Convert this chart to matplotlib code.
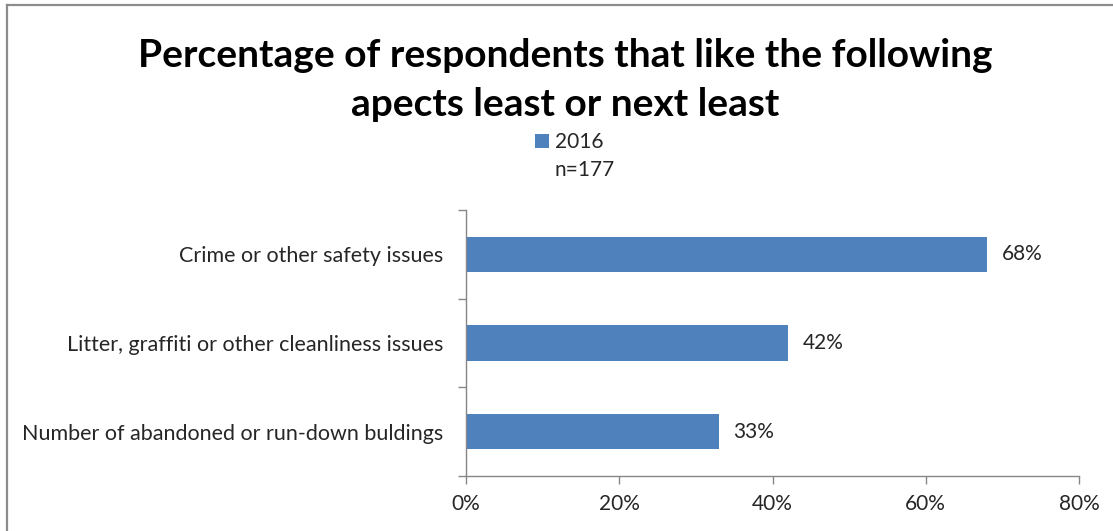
import matplotlib
matplotlib.use("Agg")
import matplotlib.pyplot as plt
from matplotlib.patches import Patch
from matplotlib.lines import Line2D

plt.rcParams['font.family'] = ['Lato', 'DejaVu Sans']

categories = [
    "Number of abandoned or run-down buldings",
    "Litter, graffiti or other cleanliness issues",
    "Crime or other safety issues",
]
values_2016 = [33, 42, 68]
series_name = "2016"
sample_note = "n=177"
x_ticks = [0, 20, 40, 60, 80]

bar_color = "#4F81BD"
axis_gray = "#868686"
text_color = "#262626"
label_size = 15

fig = plt.figure(figsize=(11.13, 5.31), dpi=100)
ax = fig.add_axes([466 / 1113, 55 / 531, 613 / 1113, 266 / 531])

pos = range(len(categories))
bars = ax.barh(pos, values_2016, height=0.4, color=bar_color)

for b, v in zip(bars, values_2016):
    ax.text(b.get_width() + 1.9, b.get_y() + b.get_height() / 2, f"{v}%",
            va="center", ha="left", fontsize=label_size, color=text_color)

ax.set_xlim(0, 80)
ax.set_ylim(-0.5, len(categories) - 0.5)
ax.set_xticks(x_ticks)
ax.set_xticklabels([f"{t}%" for t in x_ticks])
ax.set_yticks(list(pos))
ax.set_yticklabels(categories)
ax.set_yticks([i - 0.5 for i in range(len(categories) + 1)], minor=True)

ax.tick_params(axis="y", which="major", length=0, pad=16.5, labelsize=15.5, labelcolor=text_color)
ax.tick_params(axis="y", which="minor", length=6, color=axis_gray, width=1)
ax.tick_params(axis="x", length=6, color=axis_gray, width=1, pad=7, labelsize=label_size, labelcolor=text_color)

for s in ["top", "right"]:
    ax.spines[s].set_visible(False)
for s in ["left", "bottom"]:
    ax.spines[s].set_color(axis_gray)
    ax.spines[s].set_linewidth(1)

fig.text(565 / 1113, 1 - 80 / 531,
         "Percentage of respondents that like the following\napects least or next least",
         ha="center", va="center", fontsize=28, fontweight="bold",
         linespacing=1.45, color="black")

handles = [Patch(facecolor=bar_color, edgecolor="none"),
           Patch(facecolor="none", edgecolor="none")]
fig.legend(handles, [series_name, sample_note], loc="upper left",
           bbox_to_anchor=(535 / 1113, 1 - 132 / 531), frameon=False,
           fontsize=label_size, handlelength=0.65, handleheight=0.65, handletextpad=0.3,
           labelspacing=0.4, labelcolor=text_color, borderpad=0, borderaxespad=0)

# chart area border (top and left edges)
fig.add_artist(Line2D([7 / 1113, 7 / 1113], [0, 1 - 5 / 531], transform=fig.transFigure,
                      color="#8c8c8c", lw=1.6))
fig.add_artist(Line2D([7 / 1113, 1], [1 - 5 / 531, 1 - 5 / 531], transform=fig.transFigure,
                      color="#8c8c8c", lw=1.6))

fig.savefig("out.png", dpi=100)
